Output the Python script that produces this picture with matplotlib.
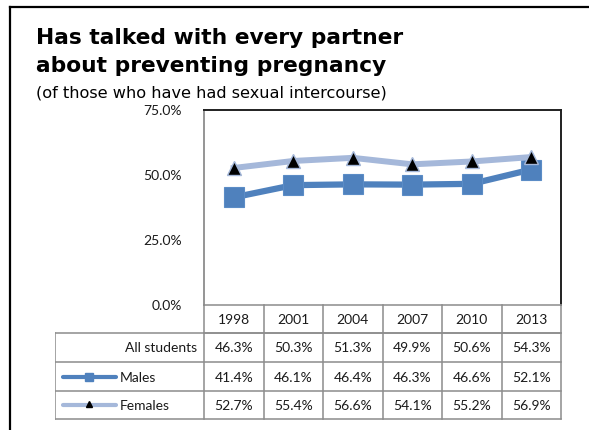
import matplotlib
matplotlib.use("Agg")
import matplotlib.pyplot as plt
from matplotlib.lines import Line2D

years = ["1998", "2001", "2004", "2007", "2010", "2013"]
all_students = [46.3, 50.3, 51.3, 49.9, 50.6, 54.3]
males = [41.4, 46.1, 46.4, 46.3, 46.6, 52.1]
females = [52.7, 55.4, 56.6, 54.1, 55.2, 56.9]
y_ticks = [0, 25, 50, 75]

MALE_COL = "#4F81BD"
FEMALE_COL = "#A5B8DA"
GRID_COL = "#8C8C8C"
TXT_COL = "#1A1A1A"

W, H = 589, 430


def fx(px):
    return px / W


def fy(py):
    return 1 - py / H


def main():
    fig = plt.figure(figsize=(W / 100, H / 100), dpi=100)

    # frame (left and top only)
    fig.add_artist(Line2D([fx(10), fx(10)], [fy(7), 0], color="black", lw=1.6))
    fig.add_artist(Line2D([fx(10), 1], [fy(7), fy(7)], color="black", lw=1.6))

    # titles
    fig.text(fx(36), fy(44), "Has talked with every partner", fontsize=15.7,
             fontweight="bold", family="DejaVu Sans", va="baseline")
    fig.text(fx(36), fy(72), "about preventing pregnancy", fontsize=15.7,
             fontweight="bold", family="DejaVu Sans", va="baseline")
    fig.text(fx(36), fy(98), "(of those who have had sexual intercourse)",
             fontsize=11.6, family="DejaVu Sans", va="baseline")

    # plot area
    left, right, top, bottom = 204, 561, 110, 305
    ax = fig.add_axes([fx(left), fy(bottom), fx(right - left), (bottom - top) / H])
    x = list(range(len(years)))
    ax.plot(x, males, color=MALE_COL, lw=4.5, marker="s", markersize=14.5,
            markerfacecolor=MALE_COL, markeredgecolor="#5B8CC6", markeredgewidth=0.8,
            zorder=3)
    ax.plot(x, females, color=FEMALE_COL, lw=4.3, marker="^", markersize=10,
            markerfacecolor="black", markeredgecolor=FEMALE_COL, markeredgewidth=1.0,
            zorder=4)
    ax.set_xlim(-0.5, len(years) - 0.5)
    ax.set_ylim(0, 75)
    ax.set_yticks(y_ticks)
    ax.set_yticklabels(["%.1f%%" % v for v in y_ticks], family="Lato", fontsize=10,
                       color=TXT_COL)
    ax.tick_params(axis="y", length=0, pad=16)
    ax.set_xticks([])
    ax.spines["left"].set_color(GRID_COL)
    ax.spines["left"].set_linewidth(1.3)
    ax.spines["bottom"].set_visible(False)
    for s in ["top", "right"]:
        ax.spines[s].set_color("#202020")
        ax.spines[s].set_linewidth(1.4)

    # data table under the plot
    tleft = 55
    rows_y = [305, 333, 362, 391, 419]
    col_w = (right - left) / len(years)
    col_x = [left + i * col_w for i in range(len(years) + 1)]
    tab = fig.add_axes([fx(tleft), fy(rows_y[-1] + 2), fx(right - tleft + 2),
                        (rows_y[-1] + 2 - rows_y[0] + 2) / H])
    tab.set_xlim(tleft, right + 2)
    tab.set_ylim(rows_y[-1] + 2, rows_y[0] - 2)
    tab.axis("off")
    lkw = dict(color=GRID_COL, lw=1.1, solid_capstyle="projecting")
    # header row
    tab.plot([left, right], [rows_y[0], rows_y[0]], **lkw)
    tab.plot([left, right], [rows_y[1], rows_y[1]], **lkw)
    for cx in col_x:
        tab.plot([cx, cx], [rows_y[0], rows_y[-1]], **lkw)
    for yy in rows_y[1:]:
        tab.plot([tleft, right], [yy, yy], **lkw)
    tab.plot([tleft, tleft], [rows_y[1], rows_y[-1]], **lkw)
    for i, yr in enumerate(years):
        tab.text((col_x[i] + col_x[i + 1]) / 2, (rows_y[0] + rows_y[1]) / 2 + 1, yr,
                 ha="center", va="center", family="Lato", fontsize=10, color=TXT_COL)

    series = [("All students", all_students), ("Males", males), ("Females", females)]
    for r, (name, vals) in enumerate(series):
        yc = (rows_y[r + 1] + rows_y[r + 2]) / 2 + 1
        for i, v in enumerate(vals):
            tab.text((col_x[i] + col_x[i + 1]) / 2, yc, "%.1f%%" % v, ha="center",
                     va="center", family="Lato", fontsize=10, color=TXT_COL)
        if name == "All students":
            tab.text(left - 7, yc, name, ha="right", va="center", family="Lato",
                     fontsize=10, color=TXT_COL)
        else:
            tab.text(120, yc, name, ha="left", va="center", family="Lato",
                     fontsize=10, color=TXT_COL)
    # legend keys
    ym = (rows_y[2] + rows_y[3]) / 2
    tab.plot([63, 116], [ym, ym], color=MALE_COL, lw=3, solid_capstyle="round")
    tab.plot([89], [ym], marker="s", markersize=6, color=MALE_COL)
    yf = (rows_y[3] + rows_y[4]) / 2
    tab.plot([63, 116], [yf, yf], color=FEMALE_COL, lw=3, solid_capstyle="round")
    tab.plot([89], [yf - 1], marker="^", markersize=5, color="black")

    fig.savefig("out.png", dpi=100)


if __name__ == "__main__":
    main()
